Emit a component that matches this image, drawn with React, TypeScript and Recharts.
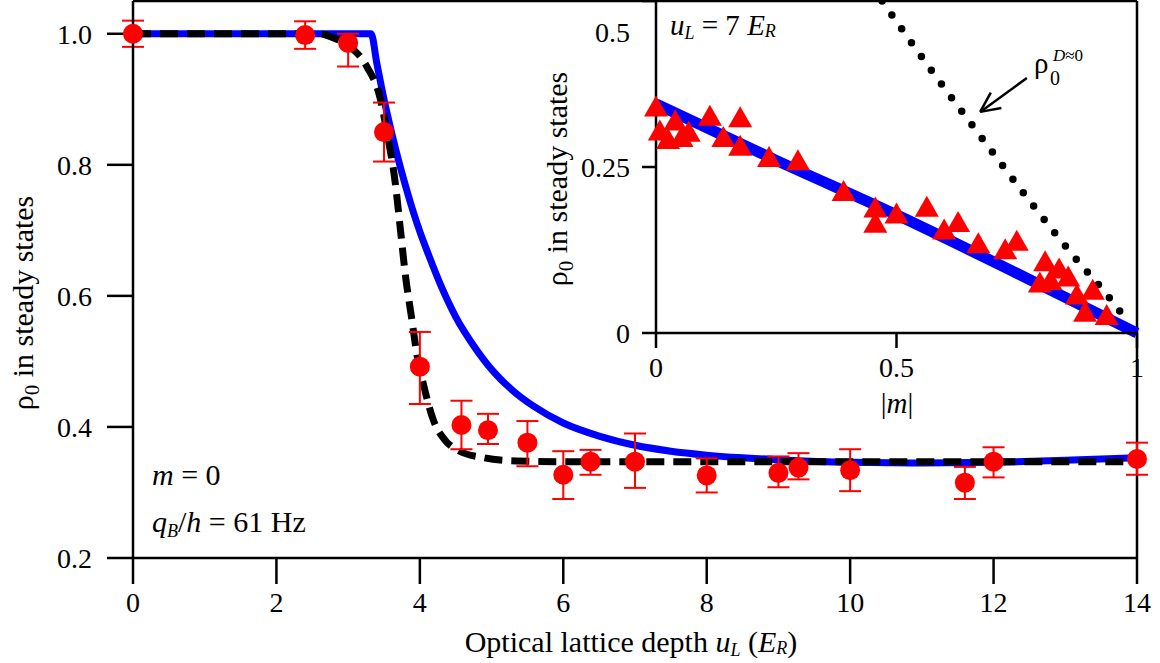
import React from "react";
import {
  ComposedChart,
  Line,
  Scatter,
  ErrorBar,
  XAxis,
  YAxis,
  ReferenceLine,
} from "recharts";

const FONT = "'Liberation Serif', 'Times New Roman', serif";

// main panel: rho_0 vs lattice depth u_L (E_R)
const depthTicks = [0, 2, 4, 6, 8, 10, 12, 14];
const rhoTicks = [0.2, 0.4, 0.6, 0.8, 1.0];

const depthPts = [0, 2.4, 3.0, 3.5, 4.0, 4.58, 4.95, 5.5, 6.0, 6.38, 7.0, 8.0, 9.0, 9.28, 10.0, 11.6, 12.0, 14.0];
const rhoPts = [1.0, 0.998, 0.986, 0.85, 0.492, 0.403, 0.395, 0.376, 0.327, 0.347, 0.347, 0.326, 0.33, 0.338, 0.334, 0.315, 0.347, 0.351];
const errLow = [0.02, 0.021, 0.036, 0.045, 0.057, 0.037, 0.021, 0.036, 0.037, 0.02, 0.04, 0.026, 0.022, 0.018, 0.032, 0.025, 0.024, 0.024];
const errHigh = [0.02, 0.021, 0.014, 0.045, 0.053, 0.037, 0.025, 0.033, 0.036, 0.018, 0.043, 0.026, 0.025, 0.022, 0.032, 0.024, 0.022, 0.025];

// solid blue theory curve
const fitU = [0, 3.32, 3.4, 3.5, 3.6, 3.7, 3.8, 3.9, 4.0, 4.12, 4.3, 4.5, 4.75, 5.03, 5.3, 5.58, 6.0, 6.5, 7.0, 7.5, 8, 9, 10, 11, 12, 13, 14];
const fitRho = [1, 1, 0.955, 0.9, 0.852, 0.808, 0.768, 0.731, 0.698, 0.663, 0.614, 0.568, 0.524, 0.484, 0.455, 0.432, 0.406, 0.386, 0.372, 0.363, 0.357, 0.35, 0.346, 0.345, 0.346, 0.349, 0.353];

// dashed black curve
const dashU = [0, 2.6, 2.79, 3.03, 3.26, 3.45, 3.54, 3.66, 3.73, 3.8, 3.88, 3.96, 4.05, 4.19, 4.35, 4.52, 4.89, 5.35, 6, 14];
const dashRho = [1, 1, 0.994, 0.98, 0.95, 0.9, 0.85, 0.77, 0.7, 0.63, 0.57, 0.51, 0.465, 0.41, 0.38, 0.365, 0.353, 0.348, 0.347, 0.347];

// inset: rho_0 vs |m| at u_L = 7 E_R
const mTicks = [0, 0.5, 1];
const insetRhoTicks = [0, 0.25, 0.5];

const triM = [0.0, 0.008, 0.025, 0.04, 0.053, 0.068, 0.112, 0.14, 0.175, 0.175, 0.235, 0.295, 0.39, 0.456, 0.456, 0.5, 0.563, 0.599, 0.628, 0.67, 0.726, 0.75, 0.798, 0.809, 0.82, 0.838, 0.857, 0.875, 0.892, 0.908, 0.937];
const triRho = [0.341, 0.305, 0.292, 0.32, 0.295, 0.303, 0.327, 0.295, 0.325, 0.282, 0.265, 0.26, 0.214, 0.189, 0.166, 0.18, 0.19, 0.156, 0.167, 0.135, 0.126, 0.139, 0.076, 0.108, 0.08, 0.097, 0.085, 0.058, 0.032, 0.065, 0.027];

const insetFitM = [0, 0.25, 0.5, 0.75, 1];
const insetFitRho = [0.345, 0.26, 0.178, 0.09, 0.0];

const dotM = [0.47, 0.57, 0.674, 0.781, 0.867, 0.937, 0.985];
const dotRho = [0.5, 0.398, 0.297, 0.195, 0.117, 0.058, 0.013];

const mainPoints = depthPts.map((u, i) => ({ u, rho: rhoPts[i], err: [errLow[i], errHigh[i]] }));
const fitData = fitU.map((u, i) => ({ u, rho: fitRho[i] }));
const dashData = dashU.map((u, i) => ({ u, rho: dashRho[i] }));
const triData = triM.map((m, i) => ({ m, rho: triRho[i] }));
const insetFit = insetFitM.map((m, i) => ({ m, rho: insetFitRho[i] }));
const dotData = dotM.map((m, i) => ({ m, rho: dotRho[i] }));

const RED = "#ff0000";
const BLUE = "#0000ff";
const AX = { stroke: "#000", strokeWidth: 2.5 };
const serif = { fontFamily: FONT };

const RedDot = (p: any) => <circle cx={p.cx} cy={p.cy} r={10} fill={RED} />;
const RedTri = (p: any) => (
  <polygon points={`${p.cx},${p.cy - 11} ${p.cx - 12},${p.cy + 10} ${p.cx + 12},${p.cy + 10}`} fill={RED} />
);

const XTick = (p: any) => (
  <text x={p.x} y={p.y} dy="0.71em" textAnchor="middle" fontSize={28} fill="#000" style={serif}>
    {String(p.payload.value)}
  </text>
);

const MainYTick = (p: any) => (
  <text x={p.x} y={p.y} dy="0.35em" textAnchor="end" fontSize={28} fill="#000" style={serif}>
    {p.payload.value.toFixed(1)}
  </text>
);

// the 0.5 label sits just below the top edge of the inset
const InsetYTick = (p: any) => {
  const v = p.payload.value;
  const shift = v === 0.5 ? 23 : 0;
  return (
    <text x={p.x} y={p.y + shift} dy="0.35em" textAnchor="end" fontSize={28} fill="#000" style={serif}>
      {String(v)}
    </text>
  );
};

export default function App() {
  return (
    <div style={{ position: "absolute", left: 0, top: 0, width: 1160, height: 663, background: "#fff" }}>
      <div style={{ position: "absolute", left: 0, top: 0 }}>
        <ComposedChart width={1160} height={663} margin={{ top: 1, right: 23, left: 0, bottom: 0 }}>
          <XAxis
            dataKey="u"
            type="number"
            domain={[0, 14]}
            ticks={depthTicks}
            height={105}
            axisLine={AX}
            tickLine={AX}
            tickSize={26}
            tickMargin={8}
            tick={XTick}
          />
          <YAxis
            dataKey="rho"
            type="number"
            domain={[0.2, 1.05]}
            ticks={rhoTicks}
            width={133}
            axisLine={AX}
            tickLine={AX}
            tickSize={26}
            tickMargin={15}
            tick={MainYTick}
          />
          <ReferenceLine y={1.05} stroke="#000" strokeWidth={2.5} />
          <ReferenceLine x={14} stroke="#000" strokeWidth={2.5} />
          <Line data={fitData} dataKey="rho" type="monotone" stroke={BLUE} strokeWidth={7} dot={false} isAnimationActive={false} />
          <Line
            data={dashData}
            dataKey="rho"
            type="monotone"
            stroke="#000"
            strokeWidth={7}
            strokeDasharray="18 9"
            dot={false}
            isAnimationActive={false}
          />
          <Scatter data={mainPoints} dataKey="rho" shape={RedDot} isAnimationActive={false}>
            <ErrorBar dataKey="err" direction="y" width={11} stroke={RED} strokeWidth={2} />
          </Scatter>
        </ComposedChart>
      </div>

      <div style={{ position: "absolute", left: 500, top: 0 }}>
        <ComposedChart width={660} height={430} margin={{ top: 1, right: 23, left: 0, bottom: 0 }}>
          <XAxis
            dataKey="m"
            type="number"
            domain={[0, 1]}
            ticks={mTicks}
            height={97}
            axisLine={AX}
            tickLine={AX}
            tickSize={15}
            tickMargin={9}
            tick={XTick}
          />
          <YAxis
            dataKey="rho"
            type="number"
            domain={[0, 0.5]}
            ticks={insetRhoTicks}
            width={156}
            axisLine={AX}
            tickLine={AX}
            tickSize={14}
            tickMargin={12}
            tick={InsetYTick}
          />
          <Line data={insetFit} dataKey="rho" type="monotone" stroke={BLUE} strokeWidth={11} dot={false} isAnimationActive={false} />
          <Scatter data={triData} dataKey="rho" shape={RedTri} isAnimationActive={false} />
          <Line
            data={dotData}
            dataKey="rho"
            type="monotone"
            stroke="#000"
            strokeWidth={7.5}
            strokeDasharray="0 17"
            strokeLinecap="round"
            dot={false}
            isAnimationActive={false}
          />
          <ReferenceLine segment={[{ x: 0.771, y: 0.384 }, { x: 0.674, y: 0.333 }]} stroke="#000" strokeWidth={2.5} />
          <ReferenceLine segment={[{ x: 0.718, y: 0.339 }, { x: 0.674, y: 0.333 }]} stroke="#000" strokeWidth={2.5} />
          <ReferenceLine segment={[{ x: 0.696, y: 0.362 }, { x: 0.674, y: 0.333 }]} stroke="#000" strokeWidth={2.5} />
        </ComposedChart>
      </div>

      <svg width={1160} height={663} style={{ position: "absolute", left: 0, top: 0, pointerEvents: "none", fontFamily: FONT }} fill="#000">
        <text x={33} y={303} transform="rotate(-90 33 303)" textAnchor="middle" fontSize={30}>
          ρ<tspan fontSize={21} dy={6}>0</tspan>
          <tspan dy={-6}> in steady states</tspan>
        </text>
        <text x={631} y={652} textAnchor="middle" fontSize={30}>
          Optical lattice depth <tspan fontStyle="italic">u</tspan>
          <tspan fontStyle="italic" fontSize={18} dy={4}>L</tspan>
          <tspan dy={-4}> (</tspan>
          <tspan fontStyle="italic">E</tspan>
          <tspan fontStyle="italic" fontSize={18} dy={2}>R</tspan>
          <tspan dy={-2}>)</tspan>
        </text>
        <text x={152} y={485} fontSize={30}>
          <tspan fontStyle="italic">m</tspan> = 0
        </text>
        <text x={152} y={532} fontSize={30}>
          <tspan fontStyle="italic">q</tspan>
          <tspan fontStyle="italic" fontSize={18} dy={5}>B</tspan>
          <tspan dy={-5}>/</tspan>
          <tspan fontStyle="italic">h</tspan> = 61 Hz
        </text>

        <text x={567} y={179} transform="rotate(-90 567 179)" textAnchor="middle" fontSize={30}>
          ρ<tspan fontSize={21} dy={6}>0</tspan>
          <tspan dy={-6}> in steady states</tspan>
        </text>
        <text x={897} y={413} textAnchor="middle" fontSize={29}>
          |<tspan fontStyle="italic">m</tspan>|
        </text>
        <text x={670} y={35} fontSize={29}>
          <tspan fontStyle="italic">u</tspan>
          <tspan fontStyle="italic" fontSize={18} dy={4}>L</tspan>
          <tspan dy={-4}> = 7 </tspan>
          <tspan fontStyle="italic">E</tspan>
          <tspan fontStyle="italic" fontSize={18} dy={2}>R</tspan>
        </text>
        <text x={1034} y={73} fontSize={29}>
          ρ
        </text>
        <text x={1050} y={85} fontSize={20}>
          0
        </text>
        <text x={1053} y={61} fontSize={17}>
          <tspan fontStyle="italic">D</tspan>≈0
        </text>
      </svg>
    </div>
  );
}
